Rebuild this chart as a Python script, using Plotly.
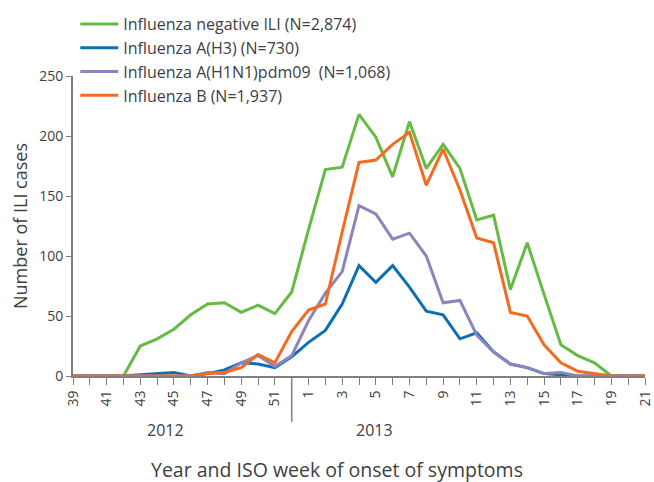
import plotly.graph_objects as go

weeks = [39, 40, 41, 42, 43, 44, 45, 46, 47, 48, 49, 50, 51, 52,
         1, 2, 3, 4, 5, 6, 7, 8, 9, 10, 11, 12, 13, 14, 15, 16, 17, 18, 19, 20, 21]
week_labels = [str(w) if w % 2 == 1 else "" for w in weeks]

neg_ili = [0, 0, 0, 0, 25, 31, 39, 51, 60, 61, 53, 59, 52, 70,
           122, 172, 174, 218, 199, 166, 212, 173, 193, 173, 130, 134, 72, 111, 68, 26, 17, 11, 0, 0, 0]
a_h3 = [0, 0, 0, 0, 1, 2, 3, 0, 2, 5, 11, 10, 7, 16,
        28, 38, 60, 92, 78, 92, 74, 54, 51, 31, 36, 20, 10, 7, 2, 1, 0, 0, 0, 0, 0]
a_h1n1 = [0, 0, 0, 0, 0, 0, 0, 0, 3, 2, 11, 17, 8, 17,
          46, 69, 87, 142, 135, 114, 119, 100, 61, 63, 34, 20, 10, 7, 2, 3, 0, 0, 0, 0, 0]
flu_b = [0, 0, 0, 0, 0, 0, 0, 0, 2, 3, 7, 18, 11, 37,
         55, 60, 120, 178, 180, 193, 203, 159, 189, 155, 115, 111, 53, 50, 26, 11, 4, 2, 0, 0, 0]

series_names = ["Influenza negative ILI (N=2,874)",
                "Influenza A(H3) (N=730)",
                "Influenza A(H1N1)pdm09\u00a0\u00a0(N=1,068)",
                "Influenza B (N=1,937)"]
series_values = [neg_ili, a_h3, a_h1n1, flu_b]
series_colors = ["#66bb44", "#0e6fb3", "#8b84bd", "#f36b21"]

years = ["2012", "2013"]
year_centers = [5.5, 17.9]

x_idx = list(range(len(weeks)))

fig = go.Figure()
for i, (name, vals, col) in enumerate(zip(series_names, series_values, series_colors)):
    fig.add_trace(go.Scatter(x=x_idx, y=vals, mode="lines", name=name,
                             legendgroup="g%d" % i,
                             line=dict(color=col, width=3)))

FONT = "Open Sans"
GREY = "#404040"
AX = "#7f7f7f"

fig.update_layout(
    width=654, height=482,
    margin=dict(l=73, r=9, t=76, b=106, autoexpand=False),
    paper_bgcolor="white", plot_bgcolor="white",
    font=dict(family=FONT, color=GREY, size=14),
    showlegend=True,
    legend=dict(x=0.004, y=1.23, xanchor="left", yanchor="top",
                font=dict(size=16, family=FONT, color=GREY),
                bgcolor="rgba(0,0,0,0)", tracegroupgap=2,
                itemwidth=38, traceorder="normal"),
)
fig.update_xaxes(
    range=[0, len(weeks) - 1],
    tickmode="array", tickvals=x_idx, ticktext=week_labels,
    tickangle=-90, ticks="outside", ticklen=7, tickcolor=AX, tickwidth=1,
    ticklabeloverflow="allow",
    showline=True, linecolor=AX, linewidth=2, showgrid=False, zeroline=False,
    tickfont=dict(size=14, family=FONT, color=GREY),
)
fig.update_yaxes(
    range=[0, 250], tickvals=[0, 50, 100, 150, 200, 250],
    ticks="outside", ticklen=5, tickcolor=AX, tickwidth=1,
    showline=True, linecolor=AX, linewidth=2, showgrid=False, zeroline=False,
    tickfont=dict(size=14, family=FONT, color=GREY),
    title=dict(text="Number of ILI cases", font=dict(size=18, family=FONT, color=GREY),
               standoff=7),
)

fig.add_shape(type="line", xref="x", yref="paper", x0=13, x1=13, y0=0, y1=-0.153,
              line=dict(color=AX, width=1.5))
for yr, xc in zip(years, year_centers):
    fig.add_annotation(text=yr, x=xc, xref="x", y=-0.18, yref="paper",
                       showarrow=False, yanchor="middle",
                       font=dict(size=16, family=FONT, color=GREY))
fig.add_annotation(text="Year and ISO week of onset of symptoms", x=0.461, xref="paper",
                   y=-0.313, yref="paper", showarrow=False, yanchor="middle",
                   font=dict(size=19.5, family=FONT, color=GREY))

fig.write_html("out.html", config={"displayModeBar": False},
               post_script="document.body.style.margin='0';document.body.style.padding='0';")
